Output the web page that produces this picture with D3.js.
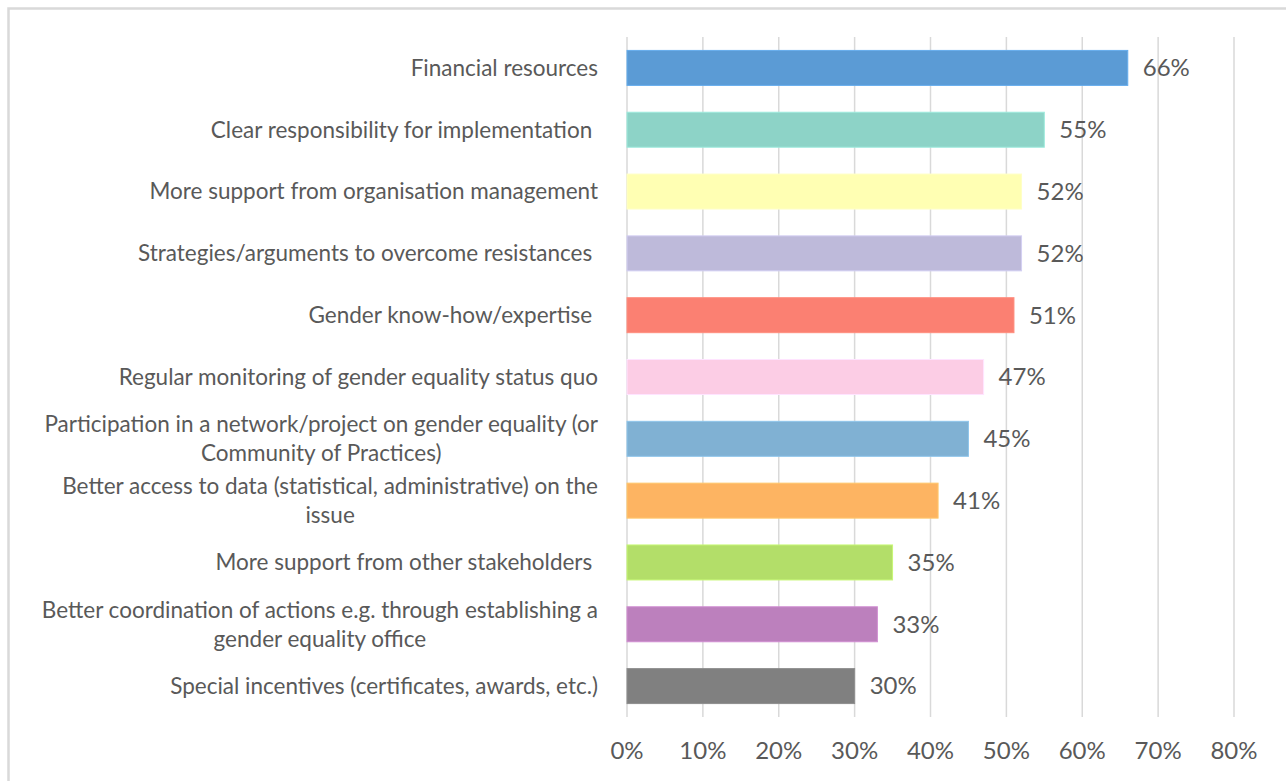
<!DOCTYPE html>
<html>
<head>
<meta charset="utf-8">
<script src="https://cdn.jsdelivr.net/npm/d3@7"></script>
<style>
  html, body { margin: 0; padding: 0; background: #fff; }
  svg text { font-family: Lato, "Open Sans", sans-serif; fill: #595959; }
</style>
</head>
<body>
<svg id="chart" width="1286" height="781"></svg>
<script>
// categories, top to bottom (trailing spaces as in the source labels)
var categories = [
	["Financial resources"],
	["Clear responsibility for implementation "],
	["More support from organisation management"],
	["Strategies/arguments to overcome resistances "],
	["Gender know-how/expertise "],
	["Regular monitoring of gender equality status quo"],
	["Participation in a network/project on gender equality (or", "Community of Practices)"],
	["Better access to data (statistical, administrative) on the", "issue"],
	["More support from other stakeholders "],
	["Better coordination of actions e.g. through establishing a", "gender equality office"],
	["Special incentives (certificates, awards, etc.)"]
];
var values = [66, 55, 52, 52, 51, 47, 45, 41, 35, 33, 30];
var barColors = ["#5B9BD5", "#8DD3C7", "#FFFFB3", "#BEBADA", "#FB8072", "#FCCDE5",
	"#80B1D3", "#FDB462", "#B3DE69", "#BC80BD", "#808080"];
var xTicks = [0, 10, 20, 30, 40, 50, 60, 70, 80];

var LABEL_SIZE = 22.5;
var NUM_SIZE = 24;
var LINE_GAP = 29;

var svg = d3.select("#chart");

// outer frame (only top/left edges are inside the picture)
svg.append("rect")
	.attr("x", 8.5)
	.attr("y", 8.5)
	.attr("width", 1300)
	.attr("height", 800)
	.attr("fill", "none")
	.style("stroke", "#D9D9D9")
	.style("stroke-width", 2.5);

var x = d3.scaleLinear().domain([0, 80]).range([627, 1234]);
var y = d3.scaleBand()
	.domain(d3.range(categories.length))
	.range([37, 717])
	.paddingInner(0.434)
	.paddingOuter(0.217);

// gridlines
svg.append("g").selectAll("line")
	.data(xTicks)
	.enter()
	.append("line")
	.attr("x1", function(d) { return x(d); })
	.attr("x2", function(d) { return x(d); })
	.attr("y1", 37)
	.attr("y2", 717)
	.style("stroke", "#D9D9D9")
	.style("stroke-width", 1.5);

// x tick labels
svg.append("g").selectAll("text")
	.data(xTicks)
	.enter()
	.append("text")
	.attr("x", function(d) { return x(d); })
	.attr("y", 751)
	.attr("dy", "0.35em")
	.attr("text-anchor", "middle")
	.style("font-size", NUM_SIZE + "px")
	.text(function(d) { return d + "%"; });

// bars
svg.append("g").selectAll("rect")
	.data(values)
	.enter()
	.append("rect")
	.attr("x", x(0))
	.attr("y", function(d, i) { return y(i); })
	.attr("width", function(d) { return x(d) - x(0); })
	.attr("height", y.bandwidth())
	.attr("fill", function(d, i) { return barColors[i]; })
	.style("stroke", function(d, i) { return d3.color(barColors[i]).brighter(0.3); })
	.style("stroke-width", 1);

// value labels
svg.append("g").selectAll("text")
	.data(values)
	.enter()
	.append("text")
	.attr("x", function(d) { return x(d) + 15; })
	.attr("y", function(d, i) { return y(i) + y.bandwidth() / 2; })
	.attr("dy", "0.35em")
	.style("font-size", NUM_SIZE + "px")
	.text(function(d) { return d + "%"; });

// category labels: block right-aligned at 598, lines centred within block
var labelGroups = svg.append("g").selectAll("g")
	.data(categories)
	.enter()
	.append("g");

labelGroups.each(function(lines, i) {
	var g = d3.select(this);
	var cy = y(i) + y.bandwidth() / 2;
	var texts = g.selectAll("text")
		.data(lines)
		.enter()
		.append("text")
		.attr("y", function(d, j) { return cy + (j - (lines.length - 1) / 2) * LINE_GAP; })
		.attr("dy", "0.35em")
		.attr("text-anchor", "middle")
		.attr("xml:space", "preserve")
		.style("white-space", "pre")
		.style("font-size", LABEL_SIZE + "px")
		.text(function(d) { return d; });
	var w = 0;
	texts.each(function() { w = Math.max(w, this.getComputedTextLength()); });
	texts.attr("x", 598 - w / 2);
});
</script>
</body>
</html>
